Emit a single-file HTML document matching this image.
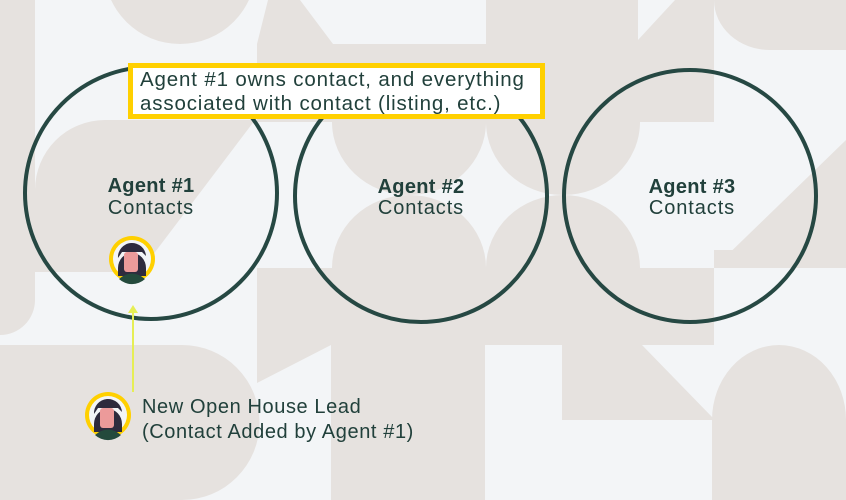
<!DOCTYPE html>
<html><head><meta charset="utf-8"><style>
html,body{margin:0;padding:0}
body{width:846px;height:500px;overflow:hidden;background:#f3f5f7;position:relative;font-family:"Liberation Sans",sans-serif;color:#21403b}
svg{position:absolute;left:0;top:0}
.t{position:absolute;text-align:center;font-size:20px;line-height:22px;color:#21403b;letter-spacing:0.9px;white-space:nowrap}
.t b{letter-spacing:0.3px}
.box{position:absolute;left:128px;top:63px;width:400px;height:46px;border:5px solid #ffd000;background:#fff;font-size:20.5px;line-height:24px;padding:0 0 0 7px;box-sizing:content-box;color:#21403b;letter-spacing:0.85px;white-space:nowrap;overflow:hidden}
</style></head><body>
<svg width="846" height="500" viewBox="0 0 846 500">
<g fill="#e6e2df">
<path d="M0,0H35V300A35,35 0 0 1 0,335Z"/>
<circle cx="180" cy="-32" r="76"/>
<polygon points="268,0 300,0 333,44 257,44"/>
<rect x="257" y="44" width="229" height="78"/>
<rect x="486" y="0" width="152" height="122"/>
<path d="M332,122 A77,73 0 0 0 486,122 Z"/>
<path d="M486,122 A77,73 0 0 0 640,122 Z"/>
<path d="M332,268 A77,73 0 0 1 486,268 Z"/>
<path d="M486,268 A77,73 0 0 1 640,268 Z"/>
<rect x="638" y="44" width="76" height="78"/>
<polygon points="638,40 675,0 714,0 714,44 638,44"/>
<path d="M714,0H846V50H770A56,50 0 0 1 714,0Z"/>
<polygon points="846,140 846,268 714,268"/>
<path d="M35,272V190A70,70 0 0 1 105,120H255L140,272Z"/>
<polygon points="257,268 714,268 714,345 331,345 257,383"/>
<rect x="331" y="268" width="154" height="232"/>
<path d="M0,345H182A77,77 0 0 1 182,500H0Z"/>
<polygon points="562,345 642,345 713,418 713,420 562,420"/>
<path d="M712,500V420A67,75 0 0 1 846,420V500Z"/>
<rect x="714" y="250" width="132" height="18"/>
</g>
<g fill="none" stroke="#264843" stroke-width="4">
<circle cx="151" cy="193" r="126"/>
<circle cx="421" cy="196" r="126"/>
<circle cx="690" cy="196" r="126"/>
</g>
<line x1="133" y1="392" x2="133" y2="308" stroke="#e6ee55" stroke-width="2"/>
<polygon points="128,313 133,305 138,313" fill="#e6ee55"/>
<g id="av">
<circle cx="132" cy="259" r="23" fill="#ffd000"/>
<circle cx="132" cy="259" r="19" fill="#f3f5f7"/>
<path d="M118,268 A14,15 0 0 1 146,268 V276 H118Z" fill="#2e2b3d"/>
<rect x="124" y="252" width="14" height="20" rx="3" fill="#ec9a9a"/>
<path d="M118,258 A14,14 0 0 1 146,256 L142,252 H122Z" fill="#2e2b3d"/>
<path d="M119,279 Q132,268 145,279 A19,19 0 0 1 119,279Z" fill="#244a3c"/>
</g>
<use href="#av" transform="translate(-24,156)"/>
</svg>
<div class="box">Agent #1 owns contact, and everything<br>associated with contact (listing, etc.)</div>
<div class="t" style="left:81px;top:175px;width:140px"><b>Agent #1</b><br>Contacts</div>
<div class="t" style="left:351px;top:177px;width:140px;line-height:21px"><b>Agent #2</b><br>Contacts</div>
<div class="t" style="left:622px;top:177px;width:140px;line-height:21px"><b>Agent #3</b><br>Contacts</div>
<div class="t" style="left:142px;top:395px;text-align:left;font-size:20px;line-height:25px;letter-spacing:0.6px">New Open House Lead<br>(Contact Added by Agent #1)</div>
</body></html>
